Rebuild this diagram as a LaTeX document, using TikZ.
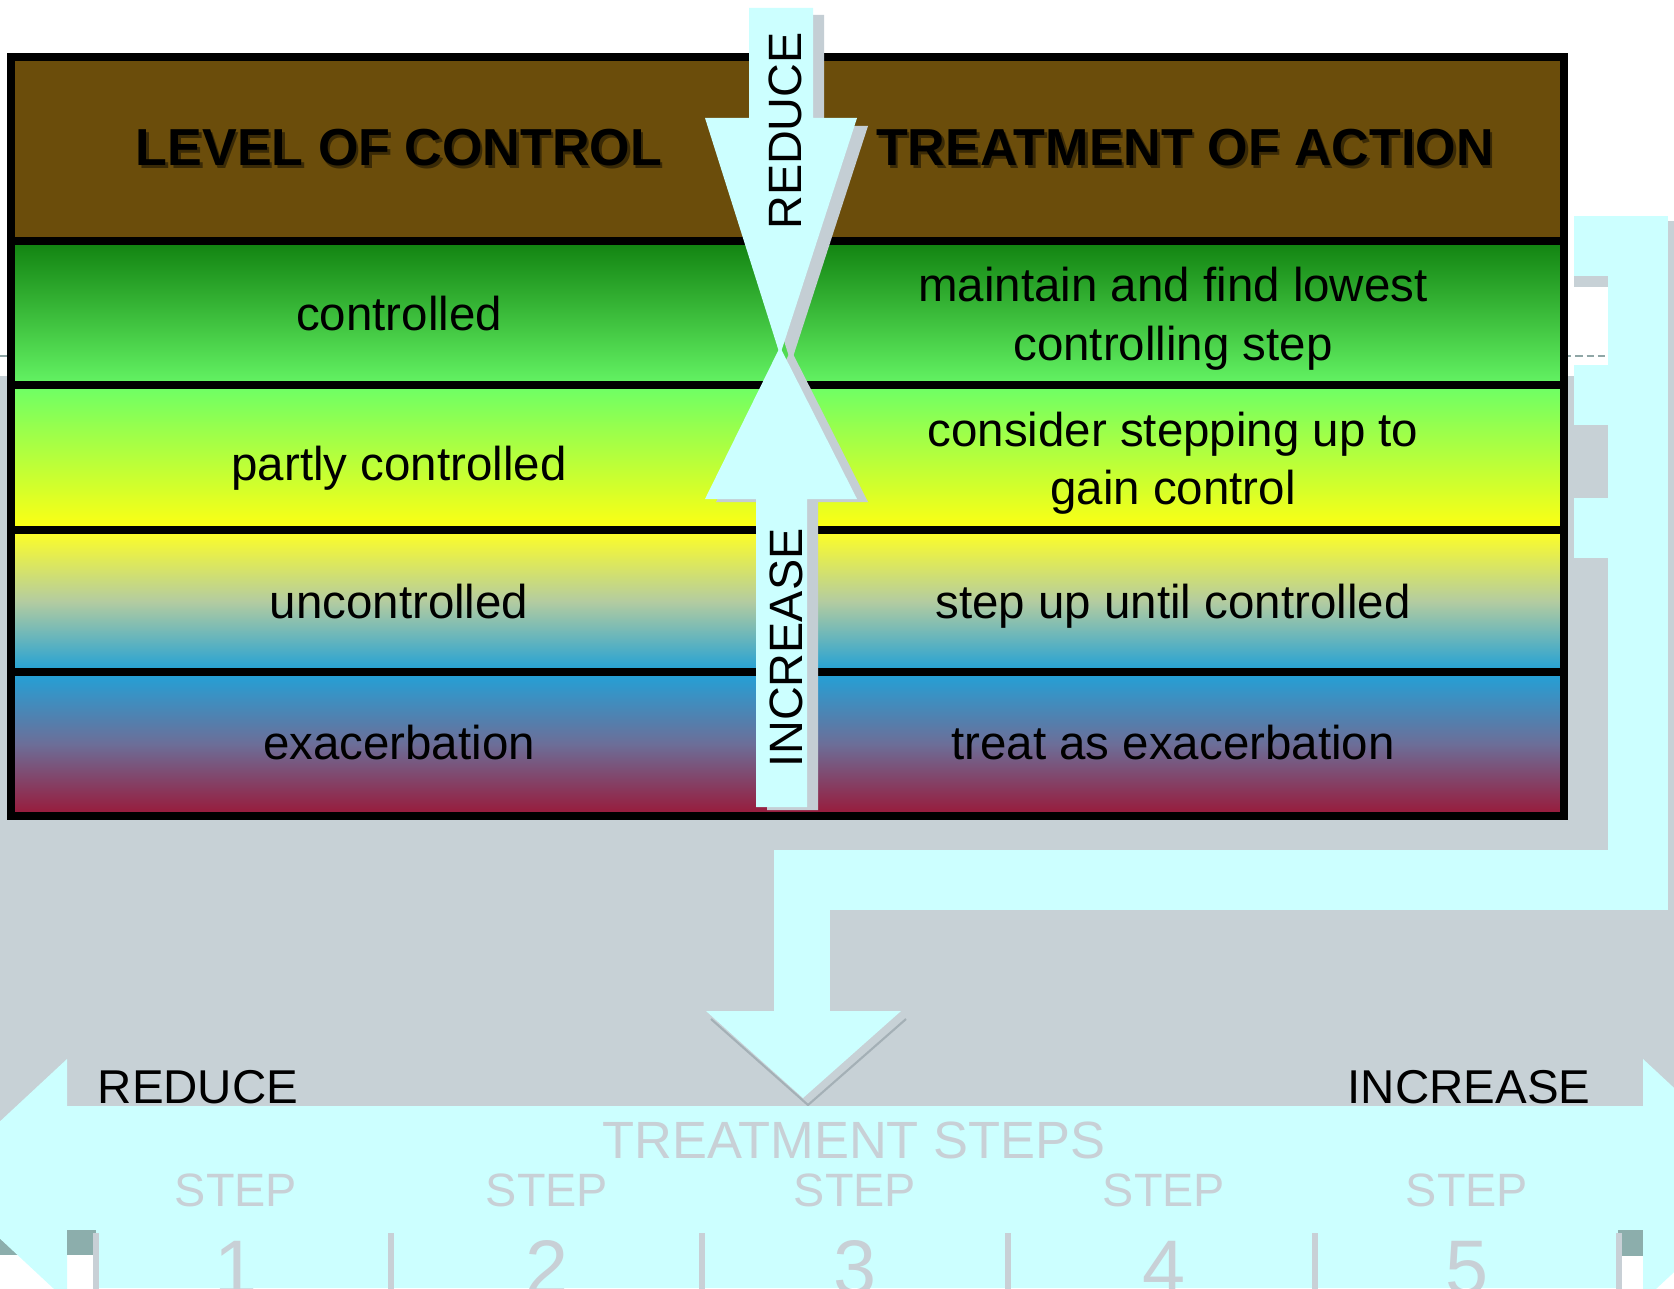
\documentclass[tikz,border=0pt]{standalone}
\usepackage{fontspec}
\setmainfont{Liberation Sans}
\definecolor{cyanfill}{HTML}{CCFFFF}
\definecolor{bggrey}{HTML}{C7D1D6}
\definecolor{shadowgrey}{HTML}{C4CED4}
\definecolor{shadowline}{HTML}{A4B0B6}
\definecolor{tealbar}{HTML}{8CAEAC}
\definecolor{dashgrey}{HTML}{8FA6A6}
\definecolor{headbrown}{HTML}{6B4D0B}
\definecolor{headshadow}{HTML}{3A2A06}
\definecolor{stepgrey}{HTML}{C8D0D6}
\definecolor{gA}{HTML}{118210}
\definecolor{gB}{HTML}{64F464}
\definecolor{gC}{HTML}{6CFF66}
\definecolor{yA}{HTML}{FFFF12}
\definecolor{yB}{HTML}{FFFF24}
\definecolor{mix}{HTML}{B4CCA0}
\definecolor{bA}{HTML}{20A0D6}
\definecolor{bB}{HTML}{22A2D8}
\definecolor{pm}{HTML}{6C6E98}
\definecolor{rA}{HTML}{9A1838}
\tikzset{
  rowtext/.style={anchor=base, inner sep=0pt, text=black, font=\fontsize{13.5pt}{16pt}\selectfont},
  headtext/.style={anchor=base, inner sep=0pt, font=\fontsize{14.8pt}{18pt}\selectfont\bfseries},
  arrowtext/.style={inner sep=0pt, rotate=90, font=\fontsize{13.3pt}{16pt}\selectfont},
  bandtext/.style={anchor=base, inner sep=0pt, font=\fontsize{13.5pt}{16pt}\selectfont},
  steplabel/.style={anchor=base, inner sep=0pt, text=stepgrey, font=\fontsize{13.3pt}{16pt}\selectfont},
  stepnum/.style={anchor=base, inner sep=0pt, text=stepgrey, font=\fontsize{22pt}{26pt}\selectfont},
  titletext/.style={anchor=base, inner sep=0pt, text=stepgrey, font=\fontsize{14.9pt}{18pt}\selectfont},
  gridline/.style={line width=2.3pt, draw=black},
  cyanshape/.style={fill=cyanfill},
  shadowshape/.style={fill=shadowgrey},
  tickline/.style={draw=stepgrey, line width=1.5pt},
}
\begin{document}
\begin{tikzpicture}[x=0.01cm, y=-0.01cm]
\useasboundingbox (0,0) rectangle (1674,1288);
\clip (0,0) rectangle (1674,1288);
\fill[white] (0,0) rectangle (1674,1288);

% backdrop
\fill[bggrey] (0,376) rectangle (1674,1230);
\fill[tealbar] (0,1230) rectangle (1674,1255);
\fill[bggrey] (1668,221) rectangle (1674,1230);
\draw[dashgrey, line width=0.85pt, dash pattern=on 2pt off 1.2pt] (0,356) -- (1608,356);

% right-hand bracket blocks
\fill[cyanshape] (1574,216) rectangle (1668,276);
\fill[bggrey] (1574,276) rectangle (1608,287);
\fill[cyanshape] (1574,365) rectangle (1608,425);
\fill[cyanshape] (1574,498) rectangle (1608,558);

% L-shaped arrow leading down to the treatment steps
\fill[cyanshape] (1608,216) rectangle (1668,910);
\fill[cyanshape] (774,850) rectangle (1668,910);
\fill[cyanshape] (774,850) rectangle (830,1012);
\draw[shadowline, line width=0.6pt] (711,1019) -- (808,1105) -- (906,1019);
\fill[cyanshape] (706,1011) -- (901,1011) -- (803,1098) -- cycle;

% table rows
\fill[headbrown] (11,57) rectangle (1564,241);
\shade[top color=gA, bottom color=gB] (11,241) rectangle (1564,385);
\shade[top color=gC, bottom color=yA] (11,385) rectangle (1564,530);
\shade[top color=yB, bottom color=bA, middle color=mix] (11,530) rectangle (1564,672);
\shade[top color=bB, bottom color=rA, middle color=pm] (11,672) rectangle (1564,816);
\foreach \yy in {241,385,530,672} \draw[gridline] (11,\yy) -- (1564,\yy);
\draw[gridline] (11,57) rectangle (1564,816);

% header captions with a soft drop shadow
\node[headtext, text=headshadow] at (401.5,168.5) {LEVEL OF CONTROL};
\node[headtext] (hleft) at (399,166) {LEVEL OF CONTROL};
\node[headtext, text=headshadow] at (1187.5,168.5) {TREATMENT OF ACTION};
\node[headtext] (hright) at (1185,166) {TREATMENT OF ACTION};

% row captions
\node[rowtext] (c1) at (399,330) {controlled};
\node[rowtext] (c2) at (399,480) {partly controlled};
\node[rowtext] (c3) at (399,618) {uncontrolled};
\node[rowtext] (c4) at (399,759) {exacerbation};
\node[rowtext] (t1a) at (1173,301) {maintain and find lowest};
\node[rowtext] (t1b) at (1173,360) {controlling step};
\node[rowtext] (t2a) at (1173,446) {consider stepping up to};
\node[rowtext] (t2b) at (1173,504) {gain control};
\node[rowtext] (t3) at (1173,618) {step up until controlled};
\node[rowtext] (t4) at (1173,759) {treat as exacerbation};

% central REDUCE arrow
\fill[shadowshape] (760,15) -- (824,15) -- (824,126) -- (868,126) -- (791,363) -- (716,126) -- (760,126) -- cycle;
\fill[cyanshape] (749,8) -- (813,8) -- (813,118) -- (857,118) -- (780,355) -- (705,118) -- (749,118) -- cycle;
% central INCREASE arrow
\fill[shadowshape] (791,350) -- (868,502) -- (818,502) -- (818,810) -- (767,810) -- (767,502) -- (716,502) -- cycle;
\fill[cyanshape] (780,347) -- (857,499) -- (807,499) -- (807,807) -- (756,807) -- (756,499) -- (705,499) -- cycle;
\node[arrowtext] (reduce) at (785,131) {REDUCE};
\node[arrowtext] (increase) at (786,648) {INCREASE};

% treatment steps band
\fill[cyanshape] (-63,1180) -- (67,1059) -- (67,1106) -- (1643,1106) -- (1643,1059)
  -- (1773,1180) -- (1643,1301) -- (1643,1254) -- (67,1254) -- (67,1301) -- cycle;
\fill[tealbar] (67,1230) rectangle (96,1255);
\fill[tealbar] (1618,1230) rectangle (1643,1256);
\fill[cyanshape] (96,1232) rectangle (1618,1288);
\foreach \xx in {96,391,702,1008,1315,1619} \draw[tickline] (\xx,1233) -- (\xx,1290);

\node[bandtext] (bred) at (198,1103) {REDUCE};
\node[bandtext] (binc) at (1469,1103) {INCREASE};
\node[titletext] (steps) at (854,1158) {TREATMENT STEPS};
\foreach \n/\xx in {1/236,2/547,3/855,4/1164,5/1467} {
  \node[steplabel] (s\n) at (\xx,1206) {STEP};
  \node[stepnum] (n\n) at (\xx,1294) {\n};
}
\end{tikzpicture}
\end{document}
